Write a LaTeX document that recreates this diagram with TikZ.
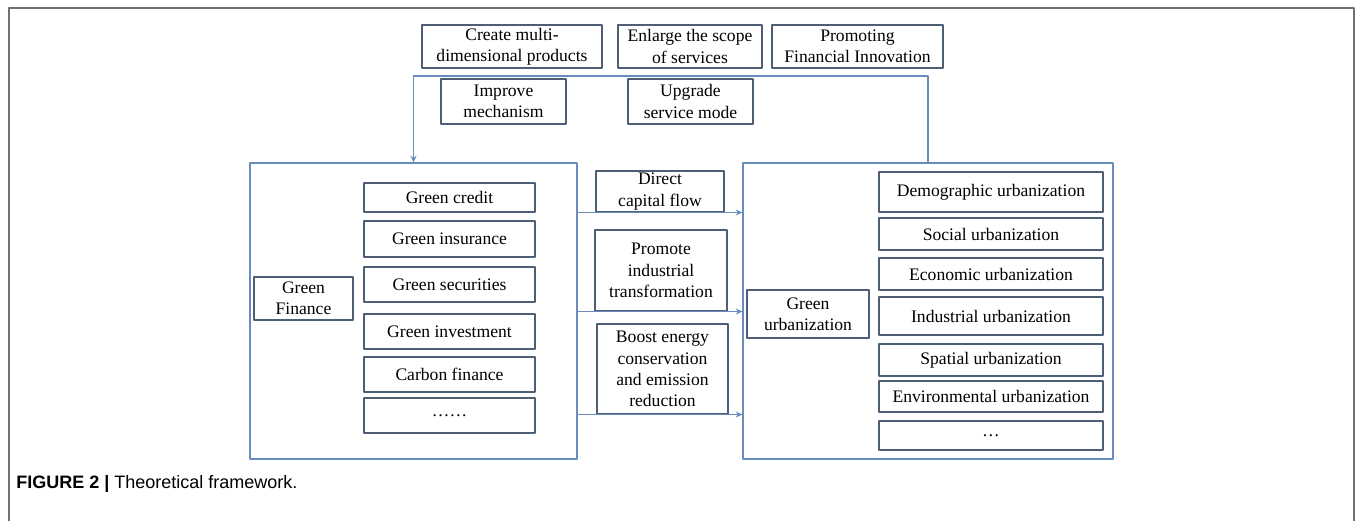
\documentclass[tikz,border=0pt]{standalone}
\usepackage{fontspec}
\usetikzlibrary{arrows.meta}
\setmainfont{Liberation Serif}
\newfontfamily\capfont{Liberation Sans}
\definecolor{linkblue}{RGB}{104,140,188}
\definecolor{boxgray}{RGB}{78,94,116}
\definecolor{framegray}{RGB}{112,112,112}
\begin{document}
\begin{tikzpicture}[x=0.75pt,y=-0.75pt,>={Stealth[length=5pt,width=4.5pt]},line join=round,
	font=\fontsize{13.2}{15.9}\selectfont,
	item/.style={draw=boxgray,line width=0.8pt,align=center,inner sep=0pt},
	frame/.style={draw=linkblue,line width=0.9pt,inner sep=0pt},
	link/.style={linkblue,line width=0.8pt}]
		\useasboundingbox (0,0) rectangle (1357,521);
		\draw[framegray,line width=1.2pt] (9,521)--(9,8)--(1354,8)--(1354,521);
		\node[item,minimum width=135pt,minimum height=32.25pt] (create) at (512,46.5) {Create multi-\\dimensional products};
		\node[item,minimum width=108pt,minimum height=32.25pt] (enlarge) at (690,46.5) {Enlarge the scope\\of services};
		\node[item,minimum width=128.25pt,minimum height=32.25pt] (promoting) at (857.5,46.5) {Promoting\\Financial Innovation};
		\node[item,minimum width=93.75pt,minimum height=33.75pt] (improve) at (503.5,101.5) {Improve\\mechanism};
		\node[item,minimum width=93.75pt,minimum height=33.75pt] (upgrade) at (690.5,101.5) {Upgrade\\service mode};
		\node[frame,minimum width=245.25pt,minimum height=222pt] (finbox) at (413.5,311) {};
		\node[frame,minimum width=277.5pt,minimum height=222pt] (urbbox) at (928,311) {};
		\coordinate (top) at (0,76);
		\draw[link,->] (urbbox.north)--(urbbox.north |- top)--(finbox.north |- top)--(finbox.north);
		\node[item,minimum width=74.25pt,minimum height=32.25pt] (gfin) at (303.5,298.5) {Green\\Finance};
		\node[item,minimum width=128.25pt,minimum height=21.75pt] (credit) at (449.5,197.5) {Green credit};
		\node[item,minimum width=128.25pt,minimum height=27pt] (insurance) at (449.5,239) {Green insurance};
		\node[item,minimum width=128.25pt,minimum height=26.25pt] (securities) at (449.5,284.5) {Green securities};
		\node[item,minimum width=128.25pt,minimum height=26.25pt] (investment) at (449.5,331.5) {Green investment};
		\node[item,minimum width=128.25pt,minimum height=26.25pt] (carbon) at (449.5,374.5) {Carbon finance};
		\node[item,minimum width=128.25pt,minimum height=26.25pt] (findots) at (449.5,415.5) {\dots\dots};
		\node[item,minimum width=96pt,minimum height=30.75pt] (direct) at (660,191.5) {Direct\\capital flow};
		\node[item,minimum width=99pt,minimum height=60.75pt] (promote) at (661,270.5) {Promote\\industrial\\transformation};
		\node[item,minimum width=98.25pt,minimum height=67.5pt] (boost) at (662.5,369) {Boost energy\\conservation\\and emission\\reduction};
		\draw[link,->] (finbox.east |- direct.south)--(urbbox.west |- direct.south);
		\draw[link,->] (finbox.east |- promote.south)--(urbbox.west |- promote.south);
		\draw[link,->] (finbox.east |- boost.south)--(urbbox.west |- boost.south);
		\node[item,minimum width=91.5pt,minimum height=36pt] (gurb) at (808,314) {Green\\urbanization};
		\node[item,minimum width=168pt,minimum height=30pt] (demo) at (991,192) {Demographic urbanization};
		\node[item,minimum width=168pt,minimum height=24pt] (social) at (991,234) {Social urbanization};
		\node[item,minimum width=168pt,minimum height=24pt] (econ) at (991,274) {Economic urbanization};
		\node[item,minimum width=168pt,minimum height=28.5pt] (indus) at (991,316) {Industrial urbanization};
		\node[item,minimum width=168pt,minimum height=24pt] (spatial) at (991,360) {Spatial urbanization};
		\node[item,minimum width=168pt,minimum height=23.25pt] (env) at (991,396.5) {Environmental urbanization};
		\node[item,minimum width=168pt,minimum height=21.75pt] (urbdots) at (991,435.5) {\dots};
		\node[anchor=base west,inner sep=0pt,font=\capfont\fontsize{13.5}{16}\selectfont] (caption) at (16,488) {\textbf{FIGURE 2 |} Theoretical framework.};
		\end{tikzpicture}
\end{document}
